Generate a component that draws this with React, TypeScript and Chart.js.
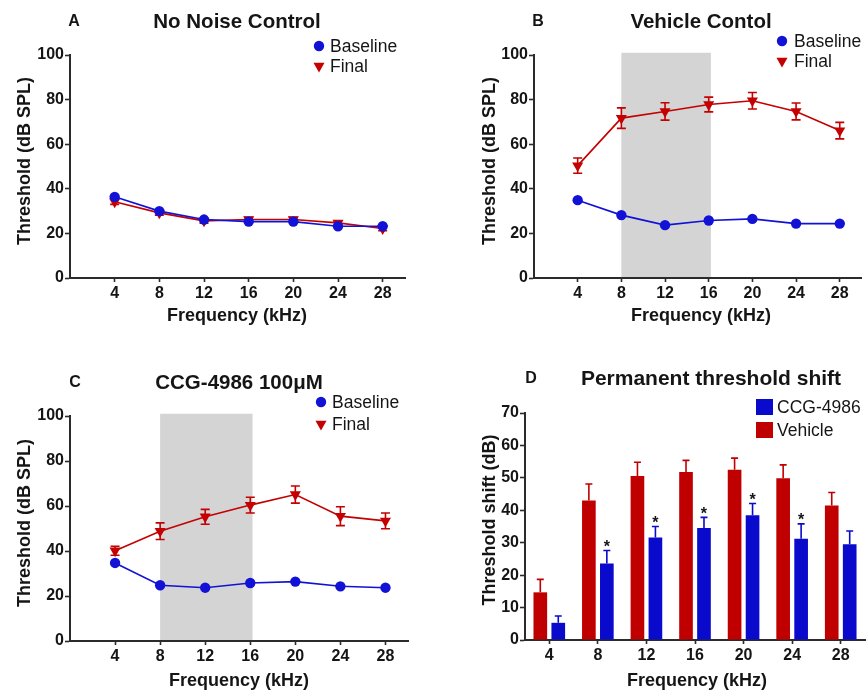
import React, { useEffect, useRef } from 'react';
import { Chart, registerables } from 'chart.js';

Chart.register(...registerables);

// ---------- data ----------
const freqs = [4, 8, 12, 16, 20, 24, 28];
const freqLabels = ['4', '8', '12', '16', '20', '24', '28'];
const thresholdTicks = [0, 20, 40, 60, 80, 100];
const shiftTicks = [0, 10, 20, 30, 40, 50, 60, 70];
const noiseBand = [8, 16.2];

const aBaseline = [36.4, 30.0, 26.2, 25.3, 25.3, 23.2, 23.2];
const aFinal = [34.2, 29.2, 25.6, 26.2, 26.2, 24.7, 22.2];
const aFinalErr = [1.2, 1.0, 1.0, 1.0, 1.0, 1.0, 1.0];

const bBaseline = [34.9, 28.2, 23.7, 25.8, 26.5, 24.4, 24.4];
const bFinal = [50.4, 71.7, 74.7, 77.8, 79.5, 74.7, 66.1];
const bFinalErr = [3.4, 4.6, 3.9, 3.3, 3.7, 3.8, 3.7];

const cBaseline = [34.7, 24.8, 23.7, 25.8, 26.4, 24.3, 23.7];
const cFinal = [40.1, 48.8, 55.2, 60.4, 65.1, 55.5, 53.4];
const cFinalErr = [2.0, 3.7, 3.3, 3.5, 3.8, 4.2, 3.5];

const dVehicle = [14.7, 43.0, 50.6, 51.8, 52.5, 49.9, 41.5];
const dVehicleErr = [4.0, 5.1, 4.2, 3.6, 3.6, 4.1, 4.0];
const dCcg = [5.3, 23.6, 31.6, 34.5, 38.5, 31.2, 29.5];
const dCcgErr = [2.1, 4.0, 3.4, 3.3, 3.6, 4.6, 4.1];
const dCcgSignificant = [false, true, true, true, true, true, false];

// ---------- style ----------
const FONT = '"Liberation Sans", Arial, Helvetica, sans-serif';
const AXIS = '#2b2b2b';
const TEXT = '#151515';
const BLUE = '#1212d6';
const RED = '#c40000';
const BAR_BLUE = '#0a0acc';
const BAR_RED = '#c00000';
const BAND = '#d4d4d4';

function drawMarker(ctx: CanvasRenderingContext2D, style: string, color: string, x: number, y: number) {
  ctx.save();
  ctx.fillStyle = color;
  ctx.beginPath();
  if (style === 'circle') {
    ctx.arc(x, y, 5.2, 0, Math.PI * 2);
    ctx.fill();
  } else if (style === 'triangleDown') {
    const r = 6.4;
    ctx.moveTo(x - r * 0.866, y - r / 2);
    ctx.lineTo(x + r * 0.866, y - r / 2);
    ctx.lineTo(x, y + r);
    ctx.closePath();
    ctx.fill();
  } else {
    ctx.fillRect(x, y - 8, 17, 16);
  }
  ctx.restore();
}

const bandPlugin = {
  id: 'band',
  beforeDatasetsDraw(chart: any, _a: any, opts: any) {
    if (!opts || !opts.range) return;
    const { ctx } = chart;
    const xs = chart.scales.x;
    const ys = chart.scales.y;
    const x1 = xs.getPixelForValue(opts.range[0]);
    const x2 = xs.getPixelForValue(opts.range[1]);
    const y1 = ys.getPixelForValue(opts.top);
    const y2 = ys.getPixelForValue(0) - 1;
    ctx.save();
    ctx.fillStyle = BAND;
    ctx.fillRect(x1, y1, x2 - x1, y2 - y1);
    ctx.restore();
  },
};

const errorPlugin = {
  id: 'errorBars',
  afterDatasetDraw(chart: any, args: any) {
    const ds: any = chart.data.datasets[args.index];
    if (!ds.errors) return;
    const { ctx } = chart;
    const ys = chart.scales.y;
    ctx.save();
    ctx.strokeStyle = ds.errorColor || ds.borderColor;
    ctx.lineWidth = 1.6;
    const cap = ds.capHalf || 4.5;
    args.meta.data.forEach((el: any, i: number) => {
      const raw = ds.data[i];
      const v = typeof raw === 'object' ? raw.y : raw;
      const e = ds.errors[i];
      const top = ys.getPixelForValue(v + e);
      const bot = ds.upOnly ? el.y : ys.getPixelForValue(v - e);
      const x = el.x;
      ctx.beginPath();
      ctx.moveTo(x, top);
      ctx.lineTo(x, bot);
      ctx.moveTo(x - cap, top);
      ctx.lineTo(x + cap, top);
      if (!ds.upOnly) {
        ctx.moveTo(x - cap, bot);
        ctx.lineTo(x + cap, bot);
      }
      ctx.stroke();
      if (ds.stars && ds.stars[i]) {
        ctx.fillStyle = TEXT;
        ctx.font = `bold 16px ${FONT}`;
        ctx.textAlign = 'center';
        ctx.textBaseline = 'alphabetic';
        ctx.fillText('*', x, top + 1.5);
      }
    });
    ctx.restore();
  },
};

const textPlugin = {
  id: 'panelText',
  afterDraw(chart: any, _a: any, o: any) {
    if (!o || !o.title) return;
    const { ctx } = chart;
    ctx.save();
    ctx.fillStyle = TEXT;
    ctx.textAlign = 'center';
    ctx.textBaseline = 'middle';
    ctx.font = `bold 16px ${FONT}`;
    ctx.fillText(o.letter, o.letterX, o.titleY);
    ctx.font = `bold ${o.titleSize}px ${FONT}`;
    ctx.fillText(o.title, o.titleX, o.titleY);
    ctx.font = `bold 18px ${FONT}`;
    ctx.fillText(o.xTitle, o.xTitleX, o.xTitleY);
    ctx.save();
    ctx.translate(o.yTitleX, o.yTitleY);
    ctx.rotate(-Math.PI / 2);
    ctx.fillText(o.yTitle, 0, 0);
    ctx.restore();
    ctx.textAlign = 'left';
    ctx.font = `17.5px ${FONT}`;
    o.legend.rows.forEach((row: any) => {
      const ds: any = chart.data.datasets[row.ds];
      drawMarker(ctx, ds.legendMarker, ds.legendColor, o.legend.markerX, row.y);
      ctx.fillStyle = TEXT;
      ctx.fillText(ds.label, o.legend.textX, row.y + 1);
    });
    ctx.restore();
  },
};

Chart.register(bandPlugin, errorPlugin, textPlugin);

type Area = { w: number; h: number; left: number; right: number; top: number; bottom: number };

function yAxis(area: Area, max: number, ticks: number[]) {
  return {
    min: 0,
    max,
    afterBuildTicks: (s: any) => {
      s.ticks = ticks.map((v) => ({ value: v }));
    },
    afterFit: (s: any) => {
      s.width = area.left;
    },
    grid: { drawOnChartArea: false, drawTicks: true, tickLength: 5, tickWidth: 1.6, tickColor: AXIS },
    border: { color: AXIS, width: 2 },
    ticks: { color: TEXT, padding: 1, font: { family: FONT, size: 16, weight: 'bold' } },
  };
}

function xAxisLinear(area: Area) {
  return {
    type: 'linear',
    min: 0,
    max: 30,
    afterBuildTicks: (s: any) => {
      s.ticks = freqs.map((v) => ({ value: v }));
    },
    afterFit: (s: any) => {
      s.height = area.h - area.bottom;
    },
    grid: { drawOnChartArea: false, drawTicks: true, tickLength: 4, tickWidth: 1.6, tickColor: AXIS },
    border: { color: AXIS, width: 2 },
    ticks: { color: TEXT, padding: 2, font: { family: FONT, size: 16, weight: 'bold' } },
  };
}

function lineConfig(area: Area, baseline: number[], final: number[], finalErr: number[], band: boolean, text: any) {
  return {
    type: 'line',
    data: {
      datasets: [
        {
          label: 'Baseline',
          data: freqs.map((f, i) => ({ x: f, y: baseline[i] })),
          borderColor: BLUE,
          backgroundColor: BLUE,
          borderWidth: 1.6,
          pointStyle: 'circle',
          pointRadius: 5.2,
          pointBorderWidth: 0,
          legendMarker: 'circle',
          legendColor: BLUE,
        },
        {
          label: 'Final',
          data: freqs.map((f, i) => ({ x: f, y: final[i] })),
          errors: finalErr,
          borderColor: RED,
          backgroundColor: RED,
          borderWidth: 1.6,
          pointStyle: 'triangle',
          rotation: 180,
          pointRotation: 180,
          pointRadius: 6.4,
          pointBorderWidth: 0,
          legendMarker: 'triangleDown',
          legendColor: RED,
        },
      ],
    },
    options: {
      responsive: false,
      animation: false,
      devicePixelRatio: 1,
      layout: { padding: { left: 0, top: area.top, right: area.w - area.right, bottom: 0 } },
      scales: { x: xAxisLinear(area), y: yAxis(area, 100, thresholdTicks) },
      plugins: {
        legend: { display: false },
        tooltip: { enabled: false },
        band: band ? { range: noiseBand, top: 101 } : {},
        panelText: text,
      },
    },
  };
}

function barConfig(area: Area, text: any) {
  return {
    type: 'bar',
    data: {
      labels: freqLabels,
      datasets: [
        {
          label: 'Vehicle',
          data: dVehicle,
          errors: dVehicleErr,
          upOnly: true,
          capHalf: 3.5,
          backgroundColor: BAR_RED,
          borderColor: BAR_RED,
          errorColor: BAR_RED,
          borderWidth: 0,
          categoryPercentage: 0.74,
          barPercentage: 0.76,
          legendMarker: 'rect',
          legendColor: BAR_RED,
        },
        {
          label: 'CCG-4986',
          data: dCcg,
          errors: dCcgErr,
          stars: dCcgSignificant,
          upOnly: true,
          capHalf: 3.5,
          backgroundColor: BAR_BLUE,
          borderColor: BAR_BLUE,
          errorColor: BAR_BLUE,
          borderWidth: 0,
          categoryPercentage: 0.74,
          barPercentage: 0.76,
          legendMarker: 'rect',
          legendColor: BAR_BLUE,
        },
      ],
    },
    options: {
      responsive: false,
      animation: false,
      devicePixelRatio: 1,
      layout: { padding: { left: 0, top: area.top, right: area.w - area.right, bottom: 0 } },
      scales: {
        x: {
          type: 'category',
          offset: true,
          afterFit: (s: any) => {
            s.height = area.h - area.bottom;
          },
          grid: { offset: false, drawOnChartArea: false, drawTicks: true, tickLength: 4, tickWidth: 1.6, tickColor: AXIS },
          border: { color: AXIS, width: 2 },
          ticks: { color: TEXT, padding: 2, font: { family: FONT, size: 16, weight: 'bold' } },
        },
        y: yAxis(area, 70, shiftTicks),
      },
      plugins: {
        legend: { display: false },
        tooltip: { enabled: false },
        panelText: text,
      },
    },
  };
}

type PanelProps = { left: number; top: number; width: number; height: number; make: () => any };

function ChartPanel({ left, top, width, height, make }: PanelProps) {
  const ref = useRef<HTMLCanvasElement>(null);
  useEffect(() => {
    const chart = new Chart(ref.current as HTMLCanvasElement, make());
    return () => chart.destroy();
  }, []);
  return (
    <div style={{ position: 'absolute', left, top, width, height }}>
      <canvas ref={ref} width={width} height={height} style={{ display: 'block', width, height }} />
    </div>
  );
}

const areaA: Area = { w: 434, h: 330, left: 70, right: 405, top: 55, bottom: 278 };
const areaB: Area = { w: 434, h: 330, left: 100, right: 434, top: 55, bottom: 278 };
const areaC: Area = { w: 434, h: 363, left: 70, right: 408, top: 86, bottom: 311 };
const areaD: Area = { w: 434, h: 363, left: 91, right: 431, top: 83, bottom: 310 };

const textA = {
  letter: 'A', letterX: 74, title: 'No Noise Control', titleX: 237, titleY: 22, titleSize: 20.5,
  xTitle: 'Frequency (kHz)', xTitleX: 237, xTitleY: 316,
  yTitle: 'Threshold (dB SPL)', yTitleX: 25, yTitleY: 161,
  legend: { markerX: 319, textX: 330, rows: [{ ds: 0, y: 46 }, { ds: 1, y: 66 }] },
};
const textB = {
  letter: 'B', letterX: 104, title: 'Vehicle Contol', titleX: 267, titleY: 22, titleSize: 20.5,
  xTitle: 'Frequency (kHz)', xTitleX: 267, xTitleY: 316,
  yTitle: 'Threshold (dB SPL)', yTitleX: 56, yTitleY: 161,
  legend: { markerX: 348, textX: 360, rows: [{ ds: 0, y: 41 }, { ds: 1, y: 61 }] },
};
const textC = {
  letter: 'C', letterX: 75, title: 'CCG-4986 100μM', titleX: 239, titleY: 53, titleSize: 20.5,
  xTitle: 'Frequency (kHz)', xTitleX: 239, xTitleY: 351,
  yTitle: 'Threshold (dB SPL)', yTitleX: 25, yTitleY: 193,
  legend: { markerX: 321, textX: 332, rows: [{ ds: 0, y: 72 }, { ds: 1, y: 94 }] },
};
const textD = {
  letter: 'D', letterX: 97, title: 'Permanent threshold shift', titleX: 277, titleY: 49, titleSize: 21,
  xTitle: 'Frequency (kHz)', xTitleX: 263, xTitleY: 351,
  yTitle: 'Threshold shift (dB)', yTitleX: 56, yTitleY: 190,
  legend: { markerX: 322, textX: 343, rows: [{ ds: 1, y: 77 }, { ds: 0, y: 100 }] },
};

export default function App() {
  useEffect(() => {
    document.body.style.margin = '0';
  }, []);
  return (
    <div style={{ position: 'relative', width: 868, height: 693, background: '#fff', overflow: 'hidden' }}>
      <ChartPanel left={0} top={0} width={434} height={330}
        make={() => lineConfig(areaA, aBaseline, aFinal, aFinalErr, false, textA)} />
      <ChartPanel left={434} top={0} width={434} height={330}
        make={() => lineConfig(areaB, bBaseline, bFinal, bFinalErr, true, textB)} />
      <ChartPanel left={0} top={330} width={434} height={363}
        make={() => lineConfig(areaC, cBaseline, cFinal, cFinalErr, true, textC)} />
      <ChartPanel left={434} top={330} width={434} height={363}
        make={() => barConfig(areaD, textD)} />
    </div>
  );
}
